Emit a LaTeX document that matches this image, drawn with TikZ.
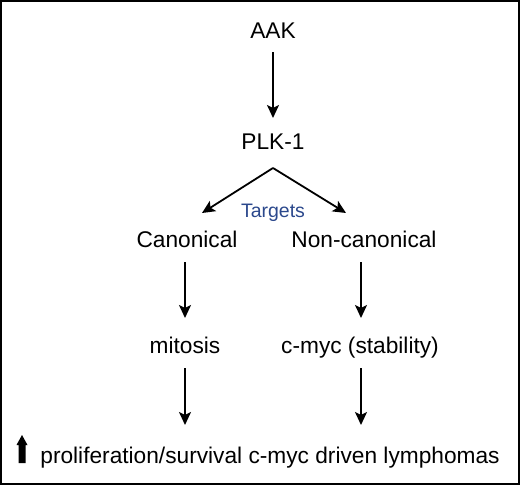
\documentclass[tikz,border=0pt]{standalone}
\usepackage{fontspec}
\setmainfont{Liberation Sans}
\usetikzlibrary{arrows.meta}
\definecolor{tgtblue}{RGB}{43,72,140}
\tikzset{
  lbl/.style={font=\fontsize{22.7}{25}\selectfont, inner sep=0pt, anchor=base},
  tgt/.style={font=\fontsize{19.5}{22}\selectfont, text=tgtblue, inner sep=0pt, anchor=base},
  arr/.style={line width=1.8pt, -{Stealth[length=13pt,width=12pt,inset=3pt]}},
}
\begin{document}
\begin{tikzpicture}[x=1pt,y=-1pt]
\useasboundingbox (0,0) rectangle (520,485);
\draw[line width=2pt] (1,1) rectangle (519,484);
\node[lbl] (aak) at (273,38) {AAK};
\node[lbl] (plk) at (273,149) {PLK-1};
\coordinate (apex) at (273,168);
\coordinate (cl) at (202,213);
\coordinate (cr) at (346,213);
\node[tgt] (tg) at (273,217) {Targets};
\node[lbl] (can) at (187,247) {Canonical};
\node[lbl] (non) at (364,247) {Non-canonical};
\node[lbl] (mit) at (185,353) {mitosis};
\node[lbl] (myc) at (360,353) {c-myc (stability)};
\node[lbl] (out) at (270,463) {proliferation/survival c-myc driven lymphomas};
\coordinate (a1s) at (273,52); \coordinate (a1e) at (273,118);
\coordinate (a2s) at (185,262); \coordinate (a2e) at (185,318);
\coordinate (a3s) at (361,262); \coordinate (a3e) at (361,318);
\coordinate (a4s) at (185,368); \coordinate (a4e) at (185,425);
\coordinate (a5s) at (361,368); \coordinate (a5e) at (361,425);
\draw[arr] (a1s) -- (a1e);
\draw[arr] (apex) -- (cl);
\draw[arr] (apex) -- (cr);
\draw[arr] (a2s) -- (a2e);
\draw[arr] (a3s) -- (a3e);
\draw[arr] (a4s) -- (a4e);
\draw[arr] (a5s) -- (a5e);
\fill (18.5,463) -- (18.5,445) -- (16.5,445) -- (22,435) -- (27.5,445) -- (25.5,445) -- (25.5,463) -- cycle;
\end{tikzpicture}
\end{document}
